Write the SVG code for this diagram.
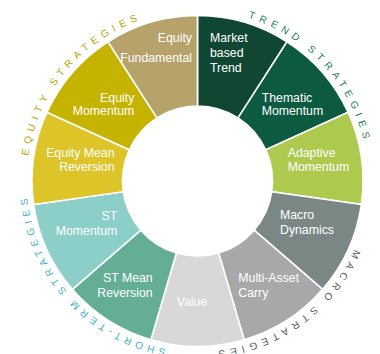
<svg xmlns="http://www.w3.org/2000/svg" xmlns:xlink="http://www.w3.org/1999/xlink" width="380" height="354" viewBox="0 0 380 354">
<style>
.seg{stroke:#fff;stroke-width:1.6;stroke-linejoin:miter}
.lbl{font-family:"Liberation Sans",Arial,Helvetica,sans-serif;font-size:12.3px;fill:#fff}
.arc{font-family:"Liberation Sans",Arial,Helvetica,sans-serif;font-size:10px;letter-spacing:5px}
</style>
<defs>
<path id="ring" d="M197.5 10 A171 171 0 1 1 197.5 352 A171 171 0 1 1 197.5 10"/>
</defs>
<rect width="380" height="354" fill="#fff"/>
<g id="market-based-trend">
<path class="seg" fill="#0f4733" d="M197.5 15.5 A165.5 165.5 0 0 1 286.98 41.77 L238.05 117.91 A75 75 0 0 0 197.5 106 Z"/>
<text class="lbl" x="210" y="41.7">Market</text>
<text class="lbl" x="210" y="56.7">based</text>
<text class="lbl" x="210" y="71.7">Trend</text>
</g>
<g id="thematic-momentum">
<path class="seg" fill="#0c5a40" d="M286.98 41.77 A165.5 165.5 0 0 1 348.04 112.25 L265.72 149.84 A75 75 0 0 0 238.05 117.91 Z"/>
<text class="lbl" x="261.7" y="101.5">Thematic</text>
<text class="lbl" x="261.7" y="115">Momentum</text>
</g>
<g id="adaptive-momentum">
<path class="seg" fill="#adca4e" d="M348.04 112.25 A165.5 165.5 0 0 1 361.32 204.55 L271.74 191.67 A75 75 0 0 0 265.72 149.84 Z"/>
<text class="lbl" x="287.7" y="157">Adaptive</text>
<text class="lbl" x="287.7" y="171">Momentum</text>
</g>
<g id="macro-dynamics">
<path class="seg" fill="#7a8784" d="M361.32 204.55 A165.5 165.5 0 0 1 322.58 289.38 L254.18 230.11 A75 75 0 0 0 271.74 191.67 Z"/>
<text class="lbl" x="280" y="219.3">Macro</text>
<text class="lbl" x="280" y="234.3">Dynamics</text>
</g>
<g id="multi-asset-carry">
<path class="seg" fill="#a8a8a8" d="M322.58 289.38 A165.5 165.5 0 0 1 244.13 339.8 L218.63 252.96 A75 75 0 0 0 254.18 230.11 Z"/>
<text class="lbl" x="238.3" y="281.7">Multi-Asset</text>
<text class="lbl" x="238.3" y="296.5">Carry</text>
</g>
<g id="value">
<path class="seg" fill="#d8d8d8" d="M244.13 339.8 A165.5 165.5 0 0 1 150.87 339.8 L176.37 252.96 A75 75 0 0 0 218.63 252.96 Z"/>
<text class="lbl" x="176.7" y="305.5">Value</text>
</g>
<g id="st-mean-reversion">
<path class="seg" fill="#64ae96" d="M150.87 339.8 A165.5 165.5 0 0 1 72.42 289.38 L140.82 230.11 A75 75 0 0 0 176.37 252.96 Z"/>
<text class="lbl" x="152.7" y="282.3" text-anchor="end">ST Mean</text>
<text class="lbl" x="152.7" y="296.7" text-anchor="end">Reversion</text>
</g>
<g id="st-momentum">
<path class="seg" fill="#8ccfc9" d="M72.42 289.38 A165.5 165.5 0 0 1 33.68 204.55 L123.26 191.67 A75 75 0 0 0 140.82 230.11 Z"/>
<text class="lbl" x="117.3" y="220" text-anchor="end">ST</text>
<text class="lbl" x="117.3" y="235" text-anchor="end">Momentum</text>
</g>
<g id="equity-mean-reversion">
<path class="seg" fill="#dcc429" d="M33.68 204.55 A165.5 165.5 0 0 1 46.96 112.25 L129.28 149.84 A75 75 0 0 0 123.26 191.67 Z"/>
<text class="lbl" x="114.5" y="156.7" text-anchor="end">Equity Mean</text>
<text class="lbl" x="114.5" y="171" text-anchor="end">Reversion</text>
</g>
<g id="equity-momentum">
<path class="seg" fill="#c5b300" d="M46.96 112.25 A165.5 165.5 0 0 1 108.02 41.77 L156.95 117.91 A75 75 0 0 0 129.28 149.84 Z"/>
<text class="lbl" x="134.3" y="101.8" text-anchor="end">Equity</text>
<text class="lbl" x="134.3" y="115" text-anchor="end">Momentum</text>
</g>
<g id="equity-fundamental">
<path class="seg" fill="#b6a36b" d="M108.02 41.77 A165.5 165.5 0 0 1 197.5 15.5 L197.5 106 A75 75 0 0 0 156.95 117.91 Z"/>
<text class="lbl" x="192" y="41.7" text-anchor="end">Equity</text>
<text class="lbl" x="192" y="62" text-anchor="end">Fundamental</text>
</g>
<g id="group-labels">
<text class="arc" fill="#b9a500" text-anchor="middle"><textPath xlink:href="#ring" href="#ring" startOffset="924.3">EQUITY STRATEGIES</textPath></text>
<text class="arc" fill="#1b8060" text-anchor="middle"><textPath xlink:href="#ring" href="#ring" startOffset="141.3">TREND STRATEGIES</textPath></text>
<text class="arc" fill="#555b5a" text-anchor="middle"><textPath xlink:href="#ring" href="#ring" startOffset="429.9">MACRO STRATEGIES</textPath></text>
<text class="arc" fill="#3fb2c8" text-anchor="middle" style="letter-spacing:4.4px"><textPath xlink:href="#ring" href="#ring" startOffset="680.6">SHORT-TERM STRATEGIES</textPath></text>
</g>
</svg>
